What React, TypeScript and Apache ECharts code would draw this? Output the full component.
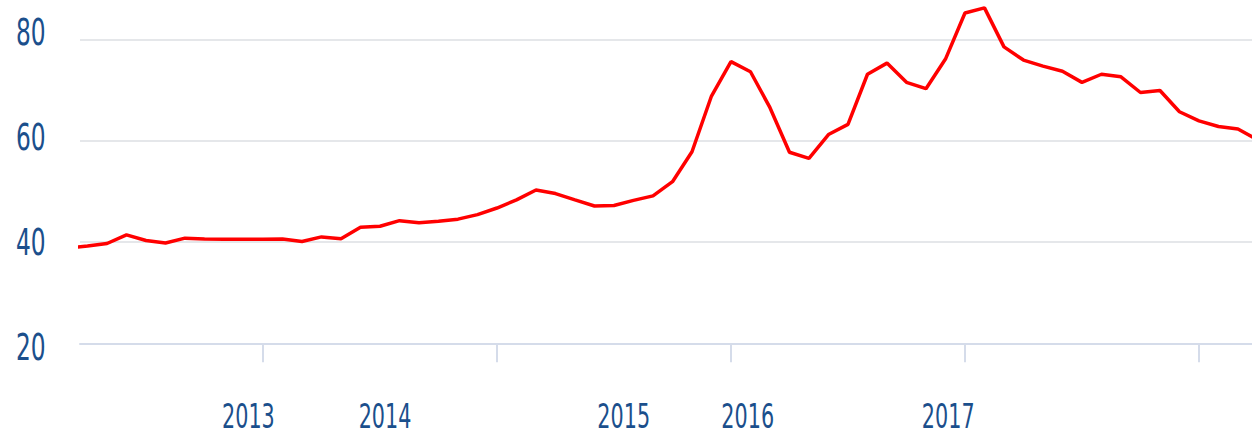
import React, { useEffect, useRef } from "react";
import * as echarts from "echarts";

// Monthly values, first entry is the month before the visible window (index -1)
const values: number[] = [
  38.8, 39.2, 39.7, 41.4, 40.3, 39.8, 40.75, 40.6, 40.55, 40.55, 40.55, 40.6, 40.1, 41.0, 40.65,
  42.9, 43.1, 44.2, 43.8, 44.1, 44.5, 45.4, 46.7, 48.3, 50.25, 49.55, 48.3, 47.1, 47.2, 48.2,
  49.1, 51.9, 57.8, 68.8, 75.6, 73.6, 66.5, 57.7, 56.5, 61.2, 63.2, 73.1, 75.3, 71.5, 70.25,
  76.1, 85.2, 86.2, 78.5, 75.9, 74.7, 73.7, 71.5, 73.1, 72.6, 69.5, 69.9, 65.7, 63.9, 62.8,
  62.3, 60.2,
];
const firstIndex = -1;

const tickMonths: number[] = [9, 21, 33, 45, 57];
const yearLabels: string[] = ["2013", "2014", "2015", "2016", "2017"];
const yearLabelPos: number[] = [8.25, 15.26, 27.5, 33.86, 44.14];
const yTicks: number[] = [20, 40, 60, 80];

const FONT_FAMILY = "'DejaVu Sans', sans-serif";
const LABEL_COLOR = "#1b4f8c";

export default function App() {
  const ref = useRef<HTMLDivElement>(null);
  useEffect(() => {
    if (!ref.current) return;
    const chart = echarts.init(ref.current, undefined, { renderer: "svg" });
    const data = values.map((v, i) => [i + firstIndex, v]);
    chart.setOption({
      animation: false,
      grid: [
        { left: 80, right: 0, top: -11.37, bottom: 93.7, outerBoundsMode: "none", containLabel: false },
        { left: 80, right: 0, top: 32, bottom: 90, outerBoundsMode: "none", containLabel: false },
      ],
      xAxis: [
        {
          type: "value",
          gridIndex: 0,
          min: -0.385,
          max: 59.72,
          splitLine: { show: false },
          axisLine: { show: true, lineStyle: { color: "#d5dcea", width: 2 } },
          axisTick: {
            show: true,
            customValues: tickMonths,
            length: 19,
            lineStyle: { color: "#d5dcea", width: 2 },
          },
          axisLabel: { show: false },
        },
        { type: "value", gridIndex: 1, show: false },
      ],
      yAxis: [
        {
          type: "value",
          gridIndex: 0,
          min: 20,
          max: 90,
          interval: 20,
          axisLine: { show: false },
          axisTick: { show: false },
          axisLabel: { show: false },
          splitLine: { show: true, lineStyle: { color: "#e5e7ea", width: 2 } },
        },
        {
          type: "value",
          gridIndex: 1,
          min: 20,
          max: 80,
          interval: 20,
          show: false,
        },
      ],
      series: [
        {
          type: "line",
          xAxisIndex: 0,
          yAxisIndex: 0,
          data,
          showSymbol: false,
          symbol: "none",
          clip: true,
          lineStyle: { color: "#ff0000", width: 3.5 },
        },
      ],
    });

    const xLabelY = 416.5;
    const yLabelX = 16;
    const graphics: any[] = [];
    yearLabelPos.forEach((p, i) => {
      const px = chart.convertToPixel({ xAxisIndex: 0 }, p) as number;
      graphics.push({
        type: "text",
        x: px,
        y: xLabelY,
        scaleX: 0.61,
        style: {
          text: yearLabels[i],
          fontFamily: FONT_FAMILY,
          fontSize: 34,
          fill: LABEL_COLOR,
          align: "center",
          verticalAlign: "middle",
        },
      });
    });
    yTicks.forEach((v) => {
      const py = chart.convertToPixel({ yAxisIndex: 1 }, v) as number;
      graphics.push({
        type: "text",
        x: yLabelX,
        y: py,
        scaleX: 0.63,
        style: {
          text: String(v),
          fontFamily: FONT_FAMILY,
          fontSize: 37,
          fill: LABEL_COLOR,
          align: "left",
          verticalAlign: "middle",
        },
      });
    });
    chart.setOption({ graphic: graphics });

    return () => chart.dispose();
  }, []);
  return (
    <div
      ref={ref}
      style={{ position: "fixed", left: 0, top: 0, width: 1252, height: 437, background: "#fff" }}
    />
  );
}
